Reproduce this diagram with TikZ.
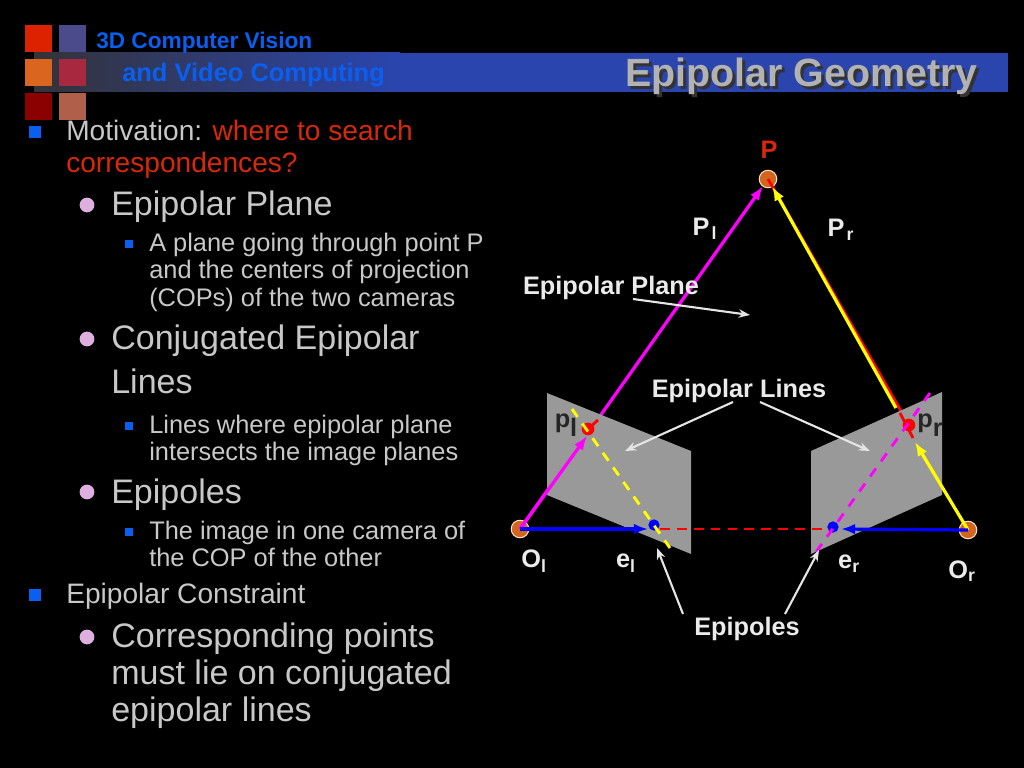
\documentclass[tikz,border=0pt]{standalone}
\usepackage{fontspec}
\setmainfont{Liberation Sans}
\usetikzlibrary{arrows, arrows.meta}
\definecolor{hdblue}{HTML}{0A5FF0}
\definecolor{bandblue}{HTML}{2A45AE}
\definecolor{bandgrey}{HTML}{333338}
\definecolor{bodygrey}{HTML}{C8C8C8}
\definecolor{titlered}{HTML}{D8280A}
\definecolor{pinkdot}{HTML}{DDB0E0}
\definecolor{dotorange}{HTML}{D2661E}
\definecolor{planegrey}{HTML}{999999}
\definecolor{magline}{HTML}{FF00FF}
\definecolor{yelline}{HTML}{FFFF00}
\tikzset{
  lvlone/.style={anchor=base west,inner sep=0pt,text=bodygrey,font=\fontsize{20}{20}\selectfont},
  lvltwo/.style={anchor=base west,inner sep=0pt,text=bodygrey,font=\fontsize{24.2}{24.2}\selectfont},
  lvlthree/.style={anchor=base west,inner sep=0pt,text=bodygrey,font=\fontsize{18.05}{18.05}\selectfont},
  lbl/.style={inner sep=0pt,text=white!92!black,font=\bfseries\fontsize{18}{18}\selectfont},
  sqr/.style={anchor=north west,minimum size=19.1pt,inner sep=0pt,outer sep=0pt},
  sqone/.style={fill=hdblue,minimum size=8.5pt,inner sep=0pt},
  sqthree/.style={fill=hdblue,minimum size=5.6pt,inner sep=0pt},
  dottwo/.style={fill=pinkdot,circle,minimum size=10.5pt,inner sep=0pt},
  camdot/.style={circle,fill=dotorange,draw=white!80!orange,line width=0.7pt,minimum size=12.5pt,inner sep=0pt,outer sep=0pt},
  ptdot/.style={circle,minimum size=8pt,inner sep=0pt},
  callout/.style={-{Stealth[length=8pt,width=6pt]},white!90!black,line width=1.5pt},
  ray/.style={-{Latex[length=10pt,width=7.5pt]},line width=2.3pt},
}
\begin{document}
\begin{tikzpicture}[x=0.025cm,y=-0.025cm,>=latex]
\useasboundingbox[fill=black] (0,0) rectangle (1024,768);
% header
\shade[left color=bandgrey,right color=bandblue,draw=none] (34,53) rectangle (400,92);
\fill[bandblue] (400,53) rectangle (1008,92);
\node[sqr,fill={rgb,255:red,221;green,34;blue,0}] (sqa) at (25,25) {};
\node[sqr,fill={rgb,255:red,75;green,75;blue,140}] (sqb) at (59,25) {};
\node[sqr,fill={rgb,255:red,217;green,101;blue,30}] (sqc) at (25,59) {};
\node[sqr,fill={rgb,255:red,168;green,40;blue,63}] (sqd) at (59,59) {};
\node[sqr,fill={rgb,255:red,139;green,0;blue,0}] (sqe) at (25,93) {};
\node[sqr,fill={rgb,255:red,176;green,96;blue,74}] (sqf) at (59,93) {};
\node[anchor=base west,inner sep=0pt,text=hdblue,font=\bfseries\fontsize{16.1}{16.1}\selectfont] (hdone) at (96,49) {3D Computer Vision};
\node[anchor=base west,inner sep=0pt,text=hdblue,font=\bfseries\fontsize{18.1}{18.1}\selectfont] (hdtwo) at (122,82) {and Video Computing};
\node[anchor=base east,inner sep=0pt,text=black!80,font=\bfseries\fontsize{28}{28}\selectfont] (titleshadow) at (981,90) {Epipolar Geometry};
\node[anchor=base east,inner sep=0pt,text=black!30,font=\bfseries\fontsize{28}{28}\selectfont] (title) at (978,87) {Epipolar Geometry};
% left text
\node[sqone] (ba) at (35,132) {};
\node[lvlone] (ta) at (66,141) {Motivation: \textcolor{titlered}{where to search}};
\node[lvlone,text=titlered] (tb) at (66,172) {correspondences?};
\node[dottwo] (bb) at (87,205) {};
\node[lvltwo] (tc) at (111,215) {Epipolar Plane};
\node[sqthree] (bc) at (129,244) {};
\node[lvlthree] (td) at (149,251) {A plane going through point P};
\node[lvlthree] (te) at (149,278) {and the centers of projection};
\node[lvlthree] (tf) at (149,306) {(COPs) of the two cameras};
\node[dottwo] (bd) at (87,339) {};
\node[lvltwo] (tg) at (111,349) {Conjugated Epipolar};
\node[lvltwo] (th) at (111,393) {Lines};
\node[sqthree] (be) at (129,426) {};
\node[lvlthree] (ti) at (149,433) {Lines where epipolar plane};
\node[lvlthree] (tj) at (149,460) {intersects the image planes};
\node[dottwo] (bf) at (87,492) {};
\node[lvltwo] (tk) at (111,503) {Epipoles};
\node[sqthree] (bg) at (129,532) {};
\node[lvlthree] (tl) at (149,539) {The image in one camera of};
\node[lvlthree] (tm) at (149,566) {the COP of the other};
\node[sqone] (bh) at (35,595) {};
\node[lvlone] (tn) at (66,603) {Epipolar Constraint};
\node[dottwo] (bi) at (87,637) {};
\node[lvltwo] (to) at (111,647) {Corresponding points};
\node[lvltwo] (tp) at (111,684) {must lie on conjugated};
\node[lvltwo] (tq) at (111,721) {epipolar lines};
% points
\coordinate (P) at (768,179);
\coordinate (Ol) at (520,529);
\coordinate (Or) at (968,530);
\coordinate (pl) at (588,429);
\coordinate (pr) at (909,425);
\coordinate (el) at (654,525);
\coordinate (er) at (833,527);
\coordinate (ya) at (896,408);
\coordinate (tipl) at (587,436);
\coordinate (tipr) at (915,442);
\node[camdot] (Pdot) at (P) {};
\node[camdot] (Oldot) at (Ol) {};
\node[camdot] (Ordot) at (Or) {};
% rays behind the planes
\draw[red,line width=2pt] (P) -- (pr);
\draw[ray,magline] (Ol) -- (Pdot);
\draw[ray,yelline] (ya) -- (Pdot);
% image planes
\fill[planegrey] (547,393) -- (691,451) -- (691,554) -- (547,495) -- cycle;
\fill[planegrey] (811,451) -- (942,392) -- (942,495) -- (811,554) -- cycle;
% rays on the planes
\coordinate (rda) at (900,413);
\coordinate (rdb) at (913,438);
\coordinate (rdc) at (598,420);
\draw[red,line width=2pt] (pl) -- (rdc);
\draw[red,line width=2pt] (rda) -- (rdb);
\coordinate (dsa) at (660,529);
\coordinate (dsb) at (830,529);
\draw[red,dash pattern=on 7pt off 5pt,line width=2pt] (dsa) -- (dsb);
\node[ptdot,fill=red,minimum size=9pt] (plp) at (pl) {};
\node[ptdot,fill=red,minimum size=9pt] (prp) at (pr) {};
\node[ptdot,fill=blue] (elp) at (el) {};
\node[ptdot,fill=blue] (erp) at (er) {};
\draw[ray,magline] (Ol) -- (tipl);
\draw[ray,yelline] (Or) -- (tipr);
\coordinate (bla) at (648,529);
\coordinate (blb) at (841,529);
\draw[ray,blue] (Ol) -- (bla);
\draw[ray,blue] (Or) -- (blb);
\coordinate (yda) at (572,409);
\coordinate (ydb) at (670,548);
\coordinate (mda) at (930,393);
\coordinate (mdb) at (816,552);
\draw[yelline,dash pattern=on 6.9pt off 5.8pt,line width=2pt] (yda) -- (ydb);
\draw[magline,dash pattern=on 7pt off 6.2pt,line width=2pt] (mda) -- (mdb);
% labels
\node[lbl,text=titlered] (Plab) at (769,150) {P};
\node[lbl] (Pl) at (705,229) {P\kern1.5pt\textsubscript{l}};
\node[lbl] (Pr) at (841,230) {P\kern1.5pt\textsubscript{r}};
\node[lbl] (Ep) at (611,288) {Epipolar Plane};
\node[lbl] (El) at (739,391) {Epipolar Lines};
\node[lbl] (Es) at (747,629) {Epipoles};
\node[lbl] (Oll) at (534,561) {O\textsubscript{l}};
\node[lbl] (Orl) at (962,571) {O\textsubscript{r}};
\node[lbl] (ell) at (626,563) {e\textsubscript{l}};
\node[lbl] (erl) at (849,564) {e\textsubscript{r}};
\node[lbl,text=black!85] (pll) at (566,425) {p\raisebox{-6pt}{l}};
\node[lbl,text=black!85] (prl) at (930,425) {p\raisebox{-6pt}{r}};
% callouts
\coordinate (cpa) at (633,299);
\coordinate (cpb) at (750,315);
\draw[callout] (cpa) -- (cpb);
\coordinate (cla) at (733,402);
\coordinate (clb) at (625,451);
\draw[callout] (cla) -- (clb);
\coordinate (clc) at (760,402);
\coordinate (cld) at (870,451);
\draw[callout] (clc) -- (cld);
\coordinate (cea) at (683,614);
\coordinate (ceb) at (657,548);
\draw[callout] (cea) -- (ceb);
\coordinate (cec) at (785,614);
\coordinate (ced) at (819,550);
\draw[callout] (cec) -- (ced);
\end{tikzpicture}
\end{document}
